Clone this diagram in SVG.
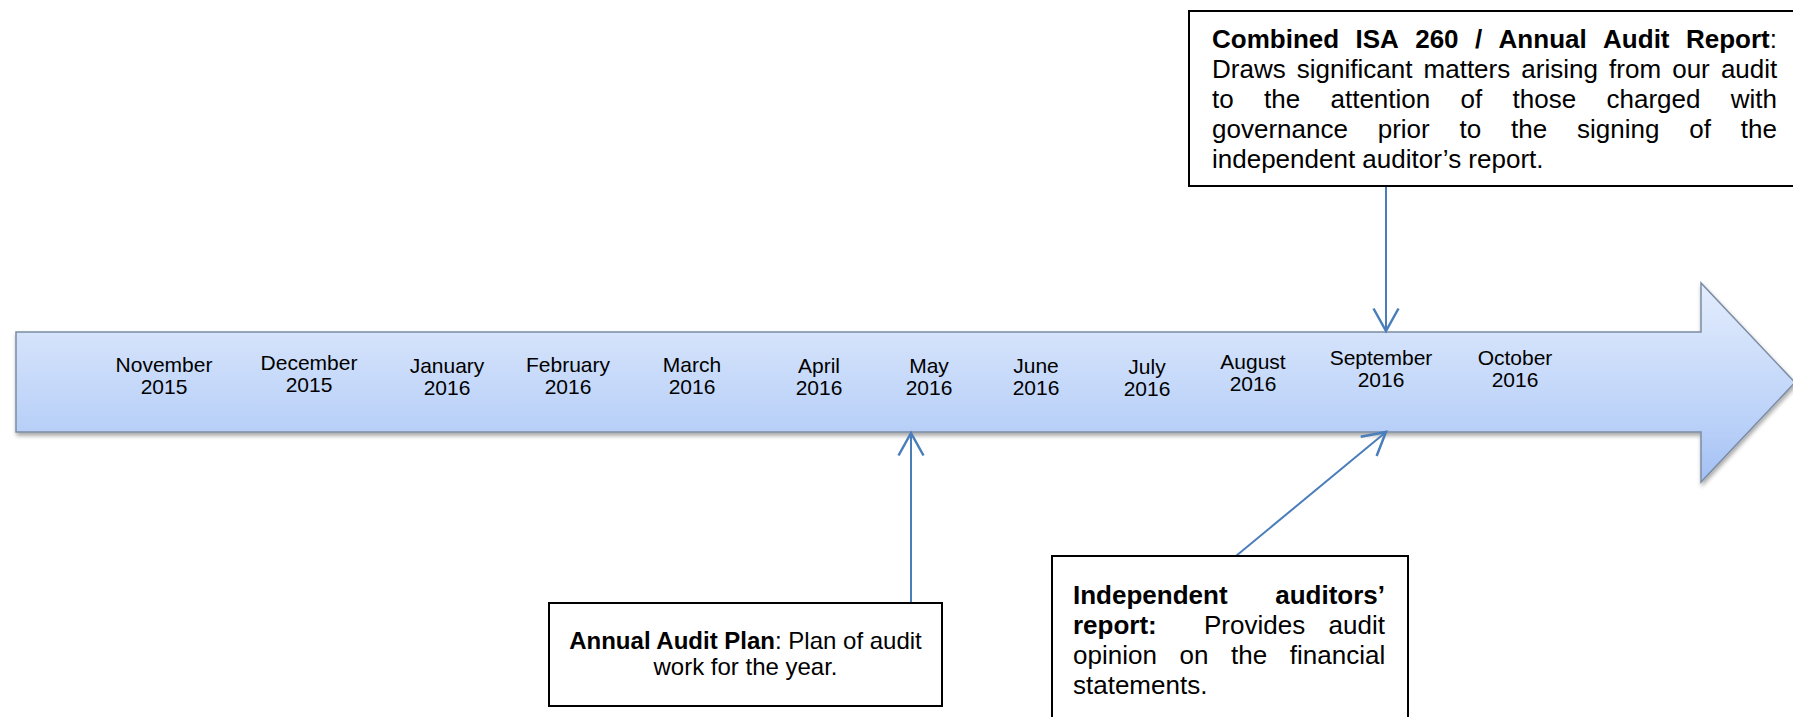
<svg xmlns="http://www.w3.org/2000/svg" width="1793" height="717" viewBox="0 0 1793 717">
<defs>
<linearGradient id="arrowFill" x1="0" y1="0" x2="0" y2="1">
<stop offset="0" stop-color="#e3ecfd"/>
<stop offset="0.25" stop-color="#d5e3fb"/>
<stop offset="0.75" stop-color="#b7cff8"/>
<stop offset="1" stop-color="#a3bff3"/>
</linearGradient>
<filter id="shadow" x="-5%" y="-20%" width="110%" height="140%">
<feDropShadow dx="1" dy="3" stdDeviation="2" flood-color="#000" flood-opacity="0.35"/>
</filter>
<marker id="open" markerUnits="userSpaceOnUse" markerWidth="30" markerHeight="30" viewBox="-20 -12 24 24" refX="0" refY="0" orient="auto">
<path d="M -18 -10 L 0 0 L -18 10" fill="none" stroke="#4a7ebb" stroke-width="2"/>
</marker>
</defs>
<style>
.month{font-family:"Liberation Sans",Arial,sans-serif;font-size:21px;fill:#000;text-anchor:middle}
.box{fill:#fff;stroke:#000;stroke-width:2}
.t26{font-family:"Liberation Sans",Arial,sans-serif;font-size:26px;fill:#000}
.t24{font-family:"Liberation Sans",Arial,sans-serif;font-size:24px;fill:#000}
.b{font-weight:bold}
.conn{stroke:#4a7ebb;stroke-width:2;fill:none;marker-end:url(#open)}
</style>

<g id="timeline">
<polygon points="16,332 1701,332 1701,283 1795,382.5 1701,482 1701,432 16,432" fill="url(#arrowFill)" stroke="#7c8ca3" stroke-width="1.5" filter="url(#shadow)"/>
<text class="month"><tspan x="164" y="372">November</tspan><tspan x="164" y="394">2015</tspan></text>
<text class="month"><tspan x="309" y="370">December</tspan><tspan x="309" y="392">2015</tspan></text>
<text class="month"><tspan x="447" y="373">January</tspan><tspan x="447" y="395">2016</tspan></text>
<text class="month"><tspan x="568" y="372">February</tspan><tspan x="568" y="394">2016</tspan></text>
<text class="month"><tspan x="692" y="372">March</tspan><tspan x="692" y="394">2016</tspan></text>
<text class="month"><tspan x="819" y="373">April</tspan><tspan x="819" y="395">2016</tspan></text>
<text class="month"><tspan x="929" y="373">May</tspan><tspan x="929" y="395">2016</tspan></text>
<text class="month"><tspan x="1036" y="373">June</tspan><tspan x="1036" y="395">2016</tspan></text>
<text class="month"><tspan x="1147" y="374">July</tspan><tspan x="1147" y="396">2016</tspan></text>
<text class="month"><tspan x="1253" y="369">August</tspan><tspan x="1253" y="391">2016</tspan></text>
<text class="month"><tspan x="1381" y="365">September</tspan><tspan x="1381" y="387">2016</tspan></text>
<text class="month"><tspan x="1515" y="365">October</tspan><tspan x="1515" y="387">2016</tspan></text>
</g>

<g id="connectors">
<line class="conn" x1="1386" y1="186" x2="1386" y2="331"/>
<line class="conn" x1="911" y1="603" x2="911" y2="433"/>
<line class="conn" x1="1236" y1="556" x2="1386" y2="432"/>
</g>

<g id="combined-report">
<rect class="box" x="1189" y="11" width="700" height="175"/>
<text class="t26" y="47.5"><tspan class="b" x="1212">Combined</tspan><tspan class="b" x="1355.5">ISA</tspan><tspan class="b" x="1415.2">260</tspan><tspan class="b" x="1475">/</tspan><tspan class="b" x="1498.6">Annual</tspan><tspan class="b" x="1603.1">Audit</tspan><tspan class="b" x="1686">Report</tspan><tspan>:</tspan></text>
<text class="t26" y="77.5" word-spacing="3.9"><tspan x="1212">Draws significant matters arising from our audit</tspan></text>
<text class="t26" y="107.5" word-spacing="23.1"><tspan x="1212">to the attention of those charged with</tspan></text>
<text class="t26" y="137.5" word-spacing="22.6"><tspan x="1212">governance prior to the signing of the</tspan></text>
<text class="t26" y="167.5"><tspan x="1212">independent auditor’s report.</tspan></text>
</g>

<g id="audit-plan">
<rect class="box" x="549" y="603" width="393" height="103"/>
<text class="t24" text-anchor="middle"><tspan x="745.5" y="649"><tspan class="b">Annual Audit Plan</tspan>: Plan of audit</tspan><tspan x="745.5" y="675">work for the year.</tspan></text>
</g>

<g id="auditors-report">
<rect class="box" x="1052" y="556" width="356" height="180"/>
<text class="t26" y="603.5"><tspan class="b" x="1073">Independent</tspan><tspan class="b" x="1275.2">auditors’</tspan></text>
<text class="t26" y="633.5"><tspan class="b" x="1073">report:</tspan><tspan x="1204">Provides</tspan><tspan x="1328.6">audit</tspan></text>
<text class="t26" y="663.5" word-spacing="15.4"><tspan x="1073">opinion on the financial</tspan></text>
<text class="t26" y="693.5"><tspan x="1073">statements.</tspan></text>
</g>
</svg>
